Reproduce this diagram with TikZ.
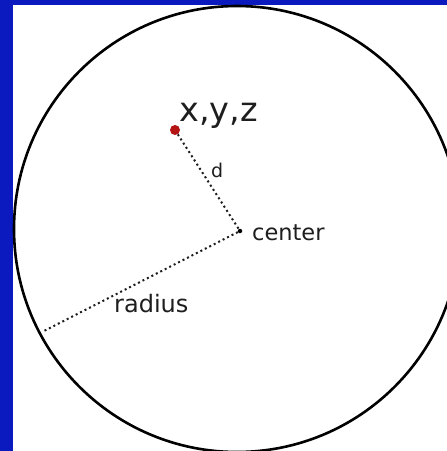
\documentclass[tikz,border=0pt]{standalone}
\usepackage{fontspec}
\setmainfont{DejaVu Sans}
\definecolor{frameblue}{RGB}{10,26,190}
\definecolor{dotred}{RGB}{180,20,20}
\definecolor{ink}{RGB}{30,30,30}
\tikzset{
  lbl/.style={inner sep=0pt, text=ink, font=\fontsize{22}{22}\selectfont},
  dotline/.style={line width=2pt, dash pattern=on 2pt off 3pt, ink},
}
\begin{document}
\begin{tikzpicture}[x=1pt,y=-1pt]
\useasboundingbox (0,0) rectangle (447,451);
\clip (0,0) rectangle (447,451);
\fill[frameblue] (0,0) rectangle (447,451);
\fill[white] (13,5) rectangle (447,451);
\draw[line width=2.6pt, black] (237,229) circle[radius=223];
\node[circle, fill=dotred, inner sep=0pt, minimum size=10pt] (pt) at (175,130) {};
\node[circle, fill=black, inner sep=0pt, minimum size=4.5pt] (ctr) at (240,231) {};
\coordinate (rim) at (42,332);
\draw[dotline] (pt) -- (ctr);
\draw[dotline] (ctr) -- (rim);
\node[lbl, font=\fontsize{33.5}{33.5}\selectfont, anchor=base west] (xyz) at (179,121) {x,y,z};
\node[lbl, font=\fontsize{19}{19}\selectfont, anchor=base west] (d) at (211,177) {d};
\node[lbl, font=\fontsize{22.5}{22.5}\selectfont, anchor=base west] (cl) at (252,240) {center};
\node[lbl, font=\fontsize{24}{24}\selectfont, anchor=base west] (rl) at (114,312) {radius};
\end{tikzpicture}
\end{document}
